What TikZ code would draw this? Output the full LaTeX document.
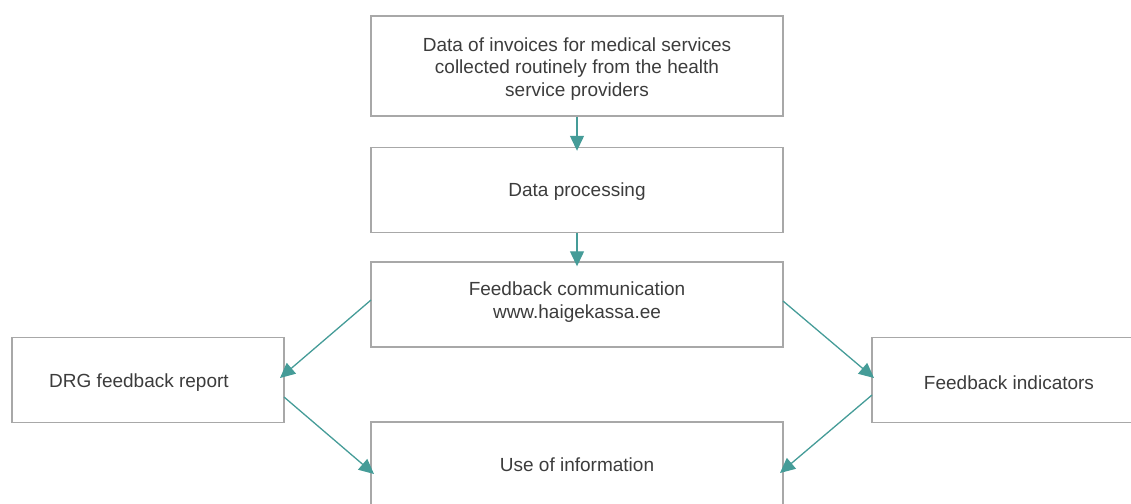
\documentclass[tikz,border=0pt]{standalone}
\usepackage{fontspec}
\setmainfont{Liberation Sans}
\usetikzlibrary{arrows.meta}
\definecolor{boxgray}{HTML}{A8A8A8}
\definecolor{tealarr}{HTML}{459C98}
\definecolor{txtgray}{HTML}{3C3C3C}
\begin{document}
\begin{tikzpicture}[x=1pt,y=-1pt,
  box/.style={draw=boxgray, line width=1.4pt, inner sep=0pt},
  txt/.style={text=txtgray, font=\fontsize{19}{22.5}\selectfont, align=center, inner sep=0pt},
  arr/.style={draw=tealarr, line width=1.3pt, -{Triangle[length=15pt,width=14pt]}}]
\useasboundingbox (0,0) rectangle (1131,503);
\clip (0,0) rectangle (1131,503);
% boxes
\node[box, minimum width=412pt, minimum height=100pt] (src) at (577,66) {};
\node[txt] (srct) at (577,69) {Data of invoices for medical services\\collected routinely from the health\\service providers};
\node[box, minimum width=412pt, minimum height=85pt] (proc) at (577,190) {};
\node[txt] (proct) at (577,192) {Data processing};
\node[box, minimum width=412pt, minimum height=85pt] (comm) at (577,304.5) {};
\node[txt] (commt) at (577,302) {Feedback communication\\www.haigekassa.ee};
\node[box, minimum width=272pt, minimum height=85pt] (drg) at (148,380) {};
\node[txt] (drgt) at (139,383) {DRG feedback report};
\node[box, minimum width=280pt, minimum height=85pt] (ind) at (1012,380) {};
\node[txt] (indt) at (1009,383) {Feedback indicators};
\node[box, minimum width=412pt, minimum height=100pt] (use) at (577,472) {};
\node[txt] (uset) at (577,465) {Use of information};
% connector end points
\coordinate (c1) at (371,300);
\coordinate (d1) at (280,378);
\coordinate (d2) at (284,397);
\coordinate (u1) at (374,474);
\coordinate (c2) at (783,301);
\coordinate (i1) at (874,378);
\coordinate (i2) at (872,395);
\coordinate (u2) at (780,473);
% connectors
\draw[arr] (src.south) -- ([yshift=-4pt]proc.north);
\draw[arr] (proc.south) -- ([yshift=-5pt]comm.north);
\draw[arr] (c1) -- (d1);
\draw[arr] (d2) -- (u1);
\draw[arr] (c2) -- (i1);
\draw[arr] (i2) -- (u2);
\end{tikzpicture}
\end{document}
